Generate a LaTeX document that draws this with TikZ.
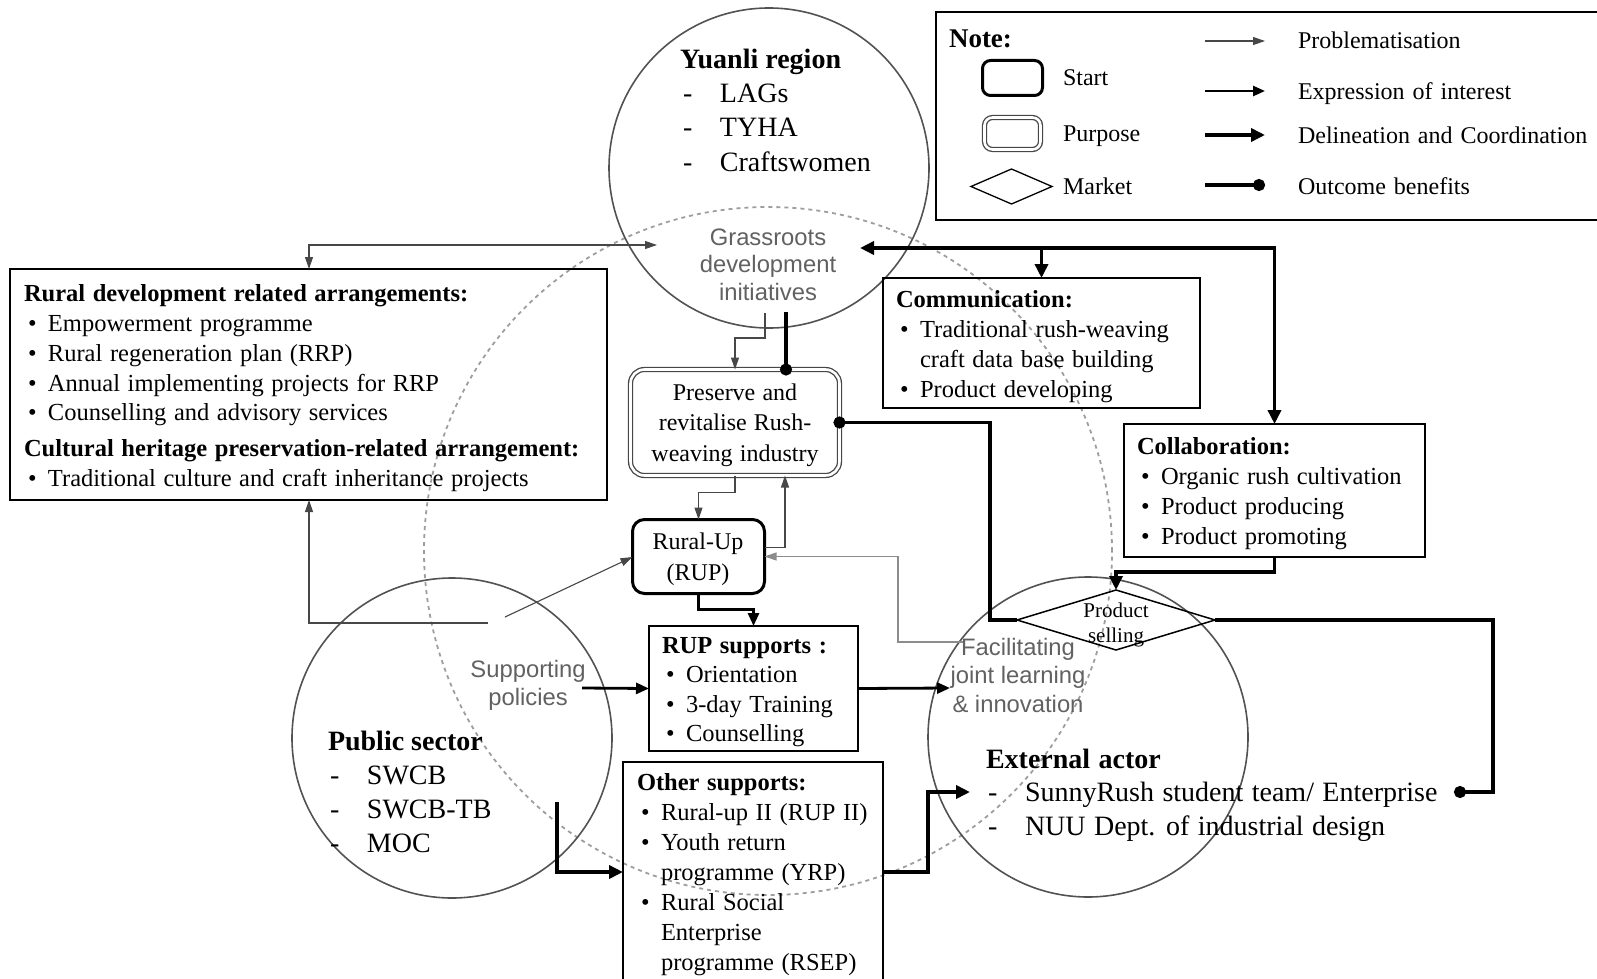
\documentclass[tikz,border=0pt]{standalone}
\usepackage{fontspec}
\setmainfont{Liberation Serif}
\newfontfamily\sansfont{Liberation Sans}
\usetikzlibrary{arrows.meta,shapes.geometric}

% bullet item, continuation indent and dash item
\newcommand\bl{\hspace*{4pt}\makebox[20pt][l]{\textbullet}}
\newcommand\bc{\hspace*{24pt}}
\newcommand\dl{\makebox[37pt][l]{-}}
% slightly wider interword space
\newcommand\widesp[1]{\spaceskip=#1 plus 2pt minus 1pt\relax}

% multi-line nodes are placed by the baseline of their last line
\tikzset{
  every node/.style={inner sep=0pt, outer sep=0pt},
  frame/.style={draw=black, line width=1.5pt, rectangle, anchor=north west},
  boxtext/.style={font=\fontsize{24.5}{29.8}\selectfont\widesp{7.6pt}, align=left, anchor=base west},
  actor/.style={circle, draw=black!68, line width=1.6pt, minimum size=320pt},
  field/.style={circle, draw=black!38, line width=1.8pt, dash pattern=on 4pt off 4pt, minimum size=688pt},
  actortext/.style={font=\fontsize{28}{34}\selectfont, align=left, anchor=base west},
  roletext/.style={font=\sansfont\fontsize{23.8}{27.5}\selectfont, text=black!62, align=center, anchor=base},
  centertext/.style={font=\fontsize{24}{30.2}\selectfont\widesp{7.2pt}, align=center, anchor=base},
  legtext/.style={font=\fontsize{24}{24}\selectfont\widesp{8pt}, anchor=base west},
  startbox/.style={draw=black, line width=3pt, rounded corners=12pt, rectangle},
  purposebox/.style={draw=black!72, line width=1.3pt, double=white, double distance=2.6pt, rounded corners=14pt, rectangle},
  market/.style={diamond, draw=black, line width=1.5pt},
  prob/.style={draw=black!72, line width=1.1pt, -{Triangle[length=12pt,width=8pt]}},
  probboth/.style={draw=black!72, line width=1.1pt, {Triangle[length=12pt,width=8pt]}-{Triangle[length=12pt,width=8pt]}},
  probgray/.style={prob, draw=black!45},
  expr/.style={draw=black, line width=2.8pt, -{Triangle[length=13pt,width=11pt]}},
  legexpr/.style={draw=black, line width=2.4pt, -{Triangle[length=12pt,width=10pt]}},
  deli/.style={draw=black, line width=3.6pt, -{Triangle[length=14pt,width=13pt]}},
  deliboth/.style={draw=black, line width=3.6pt, {Triangle[length=14pt,width=13pt]}-{Triangle[length=14pt,width=13pt]}},
  outc/.style={draw=black, line width=3.6pt, -{Circle[length=12pt]}, shorten >=-6pt},
}

\begin{document}
\begin{tikzpicture}[x=1pt,y=-1pt]
\useasboundingbox (0,0) rectangle (1597,979);
\clip (0,0) rectangle (1597,979);

% ---------- actors and the shared field ----------
\node[field] (field) at (768,551) {};
\node[actor] (yuanli) at (769,168) {};
\node[actor] (public) at (452,738) {};
\node[actor] (external) at (1088,737) {};

\node[actortext, font=\fontsize{28}{34.3}\selectfont] (yuanlitext) at (680,171)
  {\textbf{Yuanli region}\\\hspace*{3pt}\dl LAGs\\\hspace*{3pt}\dl TYHA\\\hspace*{3pt}\dl Craftswomen};
\node[actortext, font=\fontsize{28}{33.7}\selectfont] (publictext) at (328,852)
  {\textbf{Public sector}\\\hspace*{2pt}\dl SWCB\\\hspace*{2pt}\dl SWCB-TB\\\hspace*{2pt}\dl MOC};
\node[actortext, font=\fontsize{28}{33.5}\selectfont\widesp{8.4pt}] (externaltext) at (986,835)
  {\textbf{External actor}\\\hspace*{2pt}\dl SunnyRush student team/ Enterprise\\\hspace*{2pt}\dl NUU Dept. of industrial design};

\node[roletext] (grass) at (768,300) {Grassroots\\development\\initiatives};
\node[roletext] (policies) at (528,705) {Supporting\\policies};
\node[roletext, font=\sansfont\fontsize{23.8}{28.5}\selectfont] (joint) at (1018,712)
  {Facilitating\\joint learning\\\& innovation};

% ---------- arrangement boxes ----------
\node[frame, minimum width=597pt, minimum height=231pt] (rural) at (10,269) {};
\node[boxtext] (ruraltext) at (24,486.5)
  {\textbf{Rural development related arrangements:}\\
   \bl Empowerment programme\\
   \bl Rural regeneration plan (RRP)\\
   \bl Annual implementing projects for RRP\\
   \bl Counselling and advisory services\\[6pt]
   \textbf{Cultural heritage preservation-related arrangement:}\\
   \bl Traditional culture and craft inheritance projects};

\node[frame, minimum width=317pt, minimum height=130pt] (comm) at (883,278) {};
\node[boxtext, font=\fontsize{24.5}{30}\selectfont\widesp{7.6pt}] (commtext) at (896,397)
  {\textbf{Communication:}\\
   \bl Traditional rush-weaving\\
   \bc craft data base building\\
   \bl Product developing};

\node[frame, minimum width=301pt, minimum height=133pt] (collab) at (1124,424) {};
\node[boxtext, font=\fontsize{24.5}{30}\selectfont\widesp{7.6pt}] (collabtext) at (1137,544)
  {\textbf{Collaboration:}\\
   \bl Organic rush cultivation\\
   \bl Product producing\\
   \bl Product promoting};

\node[frame, minimum width=209pt, minimum height=125pt] (rups) at (649,626) {};
\node[boxtext, font=\fontsize{24.5}{29.5}\selectfont\widesp{7.6pt}] (rupstext) at (662,741.5)
  {\textbf{RUP supports :}\\
   \bl Orientation\\
   \bl 3-day Training\\
   \bl Counselling};

\node[frame, minimum width=260pt, minimum height=240pt] (others) at (623,762) {};
\node[boxtext, font=\fontsize{24.5}{30}\selectfont\widesp{7.6pt}] (otherstext) at (637,970)
  {\textbf{Other supports:}\\
   \bl Rural-up II (RUP II)\\
   \bl Youth return\\
   \bc programme (YRP)\\
   \bl Rural Social\\
   \bc Enterprise\\
   \bc programme (RSEP)};

% ---------- purpose, start and market ----------
\node[purposebox, minimum width=209pt, minimum height=106pt] (preserve) at (735,422.5) {};
\node[centertext] (preservetext) at (735,461) {Preserve and\\revitalise Rush-\\weaving industry};

\node[startbox, minimum width=132pt, minimum height=74pt] (rup) at (698.5,556.5) {};
\node[centertext] (ruptext) at (698,580) {Rural-Up\\(RUP)};

\node[market, minimum width=198pt, minimum height=60pt] (selling) at (1116,620) {};
\node[centertext, font=\fontsize{21}{25}\selectfont] (sellingtext) at (1116,642) {Product\\selling};

% ---------- connector ends ----------
\coordinate (gL) at (657,245);
\coordinate (gR) at (860,248);
\coordinate (g1) at (765,313);
\coordinate (g2) at (786,312);
\coordinate (sp1) at (488,623);
\coordinate (sp2) at (505,617);
\coordinate (pe) at (582,688);
\coordinate (fw) at (950,688);
\coordinate (fj) at (963,642);
\coordinate (pb) at (557,802);
\coordinate (ea) at (970,792);
\coordinate (sr) at (1460,792);

% ---------- problematisation ----------
\draw[probboth] (gL) -| ([xshift=299pt]rural.north west);
\draw[prob] (sp1) -| ([xshift=299pt]rural.south west);
\draw[prob] (sp2) -- ([yshift=-0.5pt]rup.west);
\draw[prob] (g1) -- ++(0,25) -| (preserve.north);
\draw[prob] (preserve.south) -- ++(0,17) -| (rup.north);
\draw[prob] ([yshift=9pt]rup.east) -| ([xshift=50pt]preserve.south);
\draw[probgray] (fj) -- ++(-65,0) |- (rup.east);

% ---------- expression of interest / delineation ----------
\draw[expr] (rup.south) -- ++(0,16) -| (rups.north);
\draw[expr] (pe) -- (rups.west);
\draw[expr] (rups.east) -- (fw);
\draw[deliboth] (gR) -| (collab.north);
\draw[deli] (comm.north |- gR) -- (comm.north);
\draw[deli] (collab.south) -- ++(0,15) -| (selling.north);
\draw[deli] (pb) |- ([yshift=-110pt]others.north west);
\draw[deli] ([yshift=-110pt]others.north east) -- ++(45,0) |- (ea);

% ---------- outcome benefits ----------
\draw[outc] (g2) -- (g2 |- preserve.north);
\draw[outc] (selling.west) -- ++(-27,0) |- (preserve.east);
\draw[outc] (selling.east) -- ++(278,0) |- (sr);

% ---------- note ----------
\node[draw, line width=2.4pt, rectangle, anchor=north west, minimum width=690pt, minimum height=208pt] (legend) at (936,12) {};
\node[font=\bfseries\fontsize{27}{27}\selectfont, anchor=base west] (note) at (949,48) {Note:};
\node[startbox, rounded corners=8pt, minimum width=60pt, minimum height=35pt] (lstart) at (1012.5,78) {};
\node[purposebox, rounded corners=8pt, minimum width=56pt, minimum height=32pt] (lpurpose) at (1012.5,133.5) {};
\node[market, line width=1.3pt, minimum width=81pt, minimum height=35pt] (lmarket) at (1011.5,186.5) {};
\node[legtext] (lstartt) at (1063,86) {Start};
\node[legtext] (lpurposet) at (1063,141) {Purpose};
\node[legtext] (lmarkett) at (1063,194) {Market};

\coordinate (k1) at (1205,41);  \coordinate (k1e) at (1265,41);
\coordinate (k2) at (1205,91);  \coordinate (k2e) at (1265,91);
\coordinate (k3) at (1205,135); \coordinate (k3e) at (1265,135);
\coordinate (k4) at (1205,185); \coordinate (k4e) at (1259,185);
\draw[prob] (k1) -- (k1e);
\draw[legexpr] (k2) -- (k2e);
\draw[deli] (k3) -- (k3e);
\draw[outc] (k4) -- (k4e);
\node[legtext] (l1) at (1298,49) {Problematisation};
\node[legtext] (l2) at (1298,100) {Expression of interest};
\node[legtext] (l3) at (1298,143) {Delineation and Coordination};
\node[legtext] (l4) at (1298,194) {Outcome benefits};
\end{tikzpicture}
\end{document}
